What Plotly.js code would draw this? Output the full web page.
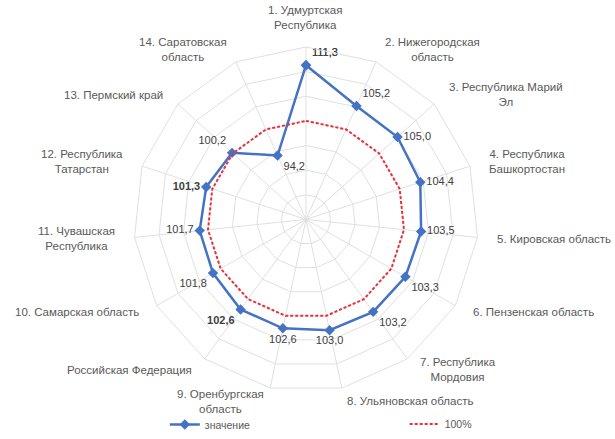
<!DOCTYPE html>
<html>
<head>
<meta charset="utf-8">
<script src="https://cdn.plot.ly/plotly-3.0.1.min.js"></script>
<style>html,body{margin:0;padding:0;background:#fff;}#chart{width:615px;height:439px;}</style>
</head>
<body>
<div id="chart"></div>
<script>
var categories = [
  "1. Удмуртская<br>Республика",
  "2. Нижегородская<br>область",
  "3. Республика Марий<br>Эл",
  "4. Республика<br>Башкортостан",
  "5. Кировская область",
  "6. Пензенская область",
  "7. Республика<br>Мордовия",
  "8. Ульяновская область",
  "9. Оренбургская<br>область",
  "Российская Федерация",
  "10. Самарская область",
  "11. Чувашская<br>Республика",
  "12. Республика<br>Татарстан",
  "13. Пермский край",
  "14. Саратовская<br>область"
];
var values = [111.3, 105.2, 105.0, 104.4, 103.5, 103.3, 103.2, 103.0, 102.6, 102.6, 101.8, 101.7, 101.3, 100.2, 94.2];
var baseline = [100, 100, 100, 100, 100, 100, 100, 100, 100, 100, 100, 100, 100, 100, 100];
var boldIdx = [9, 12];
var seriesNames = ["значение", "100%"];

var labelPos = ["top right","top right","middle right","middle right","middle right","bottom right","bottom right","bottom center","bottom center","bottom left","bottom left","middle left","middle left","top left","bottom right"];

function close(a){ return a.concat([a[0]]); }
var texts = values.map(function(v,i){
  var s = v.toFixed(1).replace('.', ',');
  return boldIdx.indexOf(i) >= 0 ? '<b>' + s + '</b>' : s;
});

var FONT = 'Liberation Sans, Arial, sans-serif';
var W = 615, H = 439;
var DOM_X = [0.2114, 0.7837], DOM_Y = [0.0888, 0.8907];

// category labels as annotations placed around the polar frame
var cxPx = (DOM_X[0] + DOM_X[1]) / 2 * W;
var cyPx = (1 - (DOM_Y[0] + DOM_Y[1]) / 2) * H;
var radPx = (DOM_X[1] - DOM_X[0]) / 2 * W;
var gap = 14;
var catAnnots = categories.map(function(c, i){
  var ang = 2 * Math.PI * i / categories.length;
  var s = Math.sin(ang), co = Math.cos(ang);
  var px = cxPx + (radPx + gap) * s;
  var py = cyPx - (radPx + gap) * co;
  return {
    text: c, xref: 'paper', yref: 'paper', x: px / W, y: 1 - py / H,
    xanchor: Math.abs(s) < 0.1 ? 'center' : (s > 0 ? 'left' : 'right'),
    yanchor: co > 0.95 ? 'bottom' : 'middle',
    align: 'center', showarrow: false,
    font: {family: FONT, size: 11.5, color: '#595959'}
  };
});

var traceMain = {
  type: 'scatterpolar',
  r: close(values),
  theta: close(categories),
  mode: 'lines+markers+text',
  name: seriesNames[0],
  legend: 'legend',
  text: close(texts),
  textposition: close(labelPos),
  textfont: {family: FONT, size: 11, color: '#404040'},
  line: {color: '#4472C4', width: 2.5},
  marker: {symbol: 'diamond', size: 8, color: '#4472C4'},
  cliponaxis: false
};
var traceBase = {
  type: 'scatterpolar',
  r: close(baseline),
  theta: close(categories),
  mode: 'lines',
  name: seriesNames[1],
  legend: 'legend2',
  line: {color: '#E8303A', width: 2, dash: '3px,2px'}
};

var layout = {
  width: W, height: H,
  margin: {l: 0, r: 0, t: 0, b: 0},
  paper_bgcolor: '#fff',
  font: {family: FONT, size: 11.5, color: '#595959'},
  showlegend: true,
  annotations: catAnnots,
  legend: {orientation: 'h', x: 0.268, xanchor: 'left', y: 0.012, yanchor: 'middle',
           font: {size: 10.5, color: '#595959'}, bgcolor: 'rgba(0,0,0,0)'},
  legend2: {orientation: 'h', x: 0.658, xanchor: 'left', y: 0.014, yanchor: 'middle',
           font: {size: 10.5, color: '#595959'}, bgcolor: 'rgba(0,0,0,0)'},
  polar: {
    domain: {x: DOM_X, y: DOM_Y},
    bgcolor: '#fff',
    gridshape: 'linear',
    radialaxis: {range: [80, 115], dtick: 5, showticklabels: false, ticks: '',
                 gridcolor: '#E0E0E0', gridwidth: 1, showline: false},
    angularaxis: {rotation: 90, direction: 'clockwise', type: 'category',
                  gridcolor: '#E0E0E0', linecolor: '#E0E0E0', showline: true,
                  showticklabels: false, ticks: ''}
  }
};

Plotly.newPlot('chart', [traceMain, traceBase], layout, {displayModeBar: false, staticPlot: true});
</script>
</body>
</html>
